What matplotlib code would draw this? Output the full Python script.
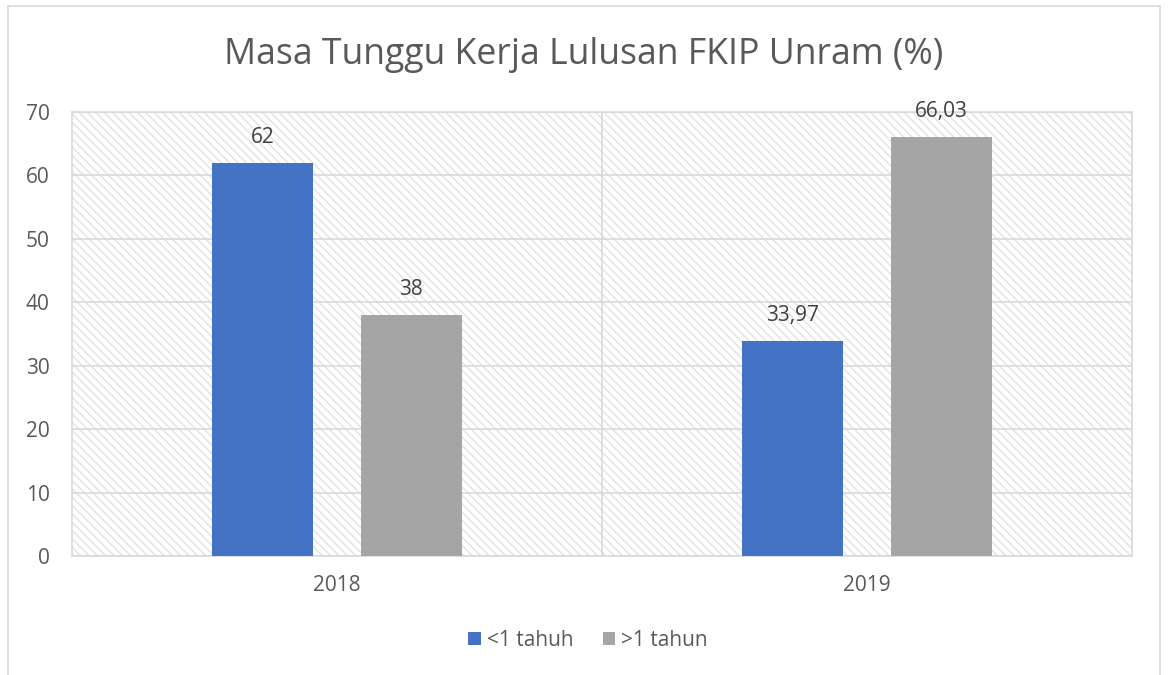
import matplotlib.pyplot as plt
from matplotlib.patches import Rectangle
import numpy as np

plt.rcParams['font.family'] = ['Open Sans', 'DejaVu Sans']
plt.rcParams['hatch.linewidth'] = 1.0
plt.rcParams['hatch.color'] = '#d9d9d9'

# Data
years = ["2018", "2019"]
kurang_1 = [62, 33.97]
lebih_1 = [38, 66.03]
labels_kurang = ["62", "33,97"]
labels_lebih = ["38", "66,03"]
series_names = ["<1 tahuh", ">1 tahun"]

blue = '#4472C4'
grey = '#A5A5A5'
text_col = '#595959'

fig = plt.figure(figsize=(11.68, 6.75), dpi=100)
ax = fig.add_axes([72/1168, 1-556/675, (1132-72)/1168, (556-112)/675])

# outer chart border
fig.patches.append(Rectangle((8/1168, -0.05), (1160-8)/1168, 1.05 - 6/675,
                             transform=fig.transFigure, fill=False,
                             edgecolor='#d9d9d9', linewidth=1.2))

# hatched plot background
ax.add_patch(Rectangle((0, 0), 1, 1, transform=ax.transAxes, facecolor='white',
                       hatch='\\\\\\\\', edgecolor='#e2e2e2', linewidth=0, zorder=0))

x = np.arange(len(years))
w = 0.19
off = 0.14
b1 = ax.bar(x - off, kurang_1, w, color=blue, label=series_names[0], zorder=3)
b2 = ax.bar(x + off, lebih_1, w, color=grey, label=series_names[1], zorder=3)

for bars, labs in [(b1, labels_kurang), (b2, labels_lebih)]:
    for r, t in zip(bars, labs):
        ax.text(r.get_x() + r.get_width()/2, r.get_height() + 4.0, t,
                ha='center', va='center', fontsize=15, color='#404040', zorder=4)

ax.set_xlim(-0.5, 1.5)
ax.set_ylim(0, 70)
ax.set_yticks(range(0, 71, 10))
ax.set_xticks(x)
ax.set_xticklabels(years)
ax.tick_params(length=0, labelsize=15, labelcolor=text_col)
ax.tick_params(axis='x', pad=14)
ax.tick_params(axis='y', pad=16)
ax.yaxis.grid(True, color='#d9d9d9', linewidth=1.2, zorder=1)
ax.axvline(0.5, color='#d9d9d9', linewidth=1.2, zorder=1)
ax.set_axisbelow(True)
for s in ax.spines.values():
    s.set_color('#d9d9d9')
    s.set_linewidth(1.2)

fig.text(584/1168, 1-55/675, "Masa Tunggu Kerja Lulusan FKIP Unram (%)",
         ha='center', va='center', fontsize=25.7, color=text_col)

fig.legend(handles=[b1, b2], loc='center', bbox_to_anchor=(588/1168, 1-640/675),
           ncol=2, frameon=False, fontsize=15, labelcolor=text_col,
           handlelength=0.6, handleheight=0.6, handletextpad=0.3, columnspacing=1.4)

fig.savefig('out.png', dpi=100)
